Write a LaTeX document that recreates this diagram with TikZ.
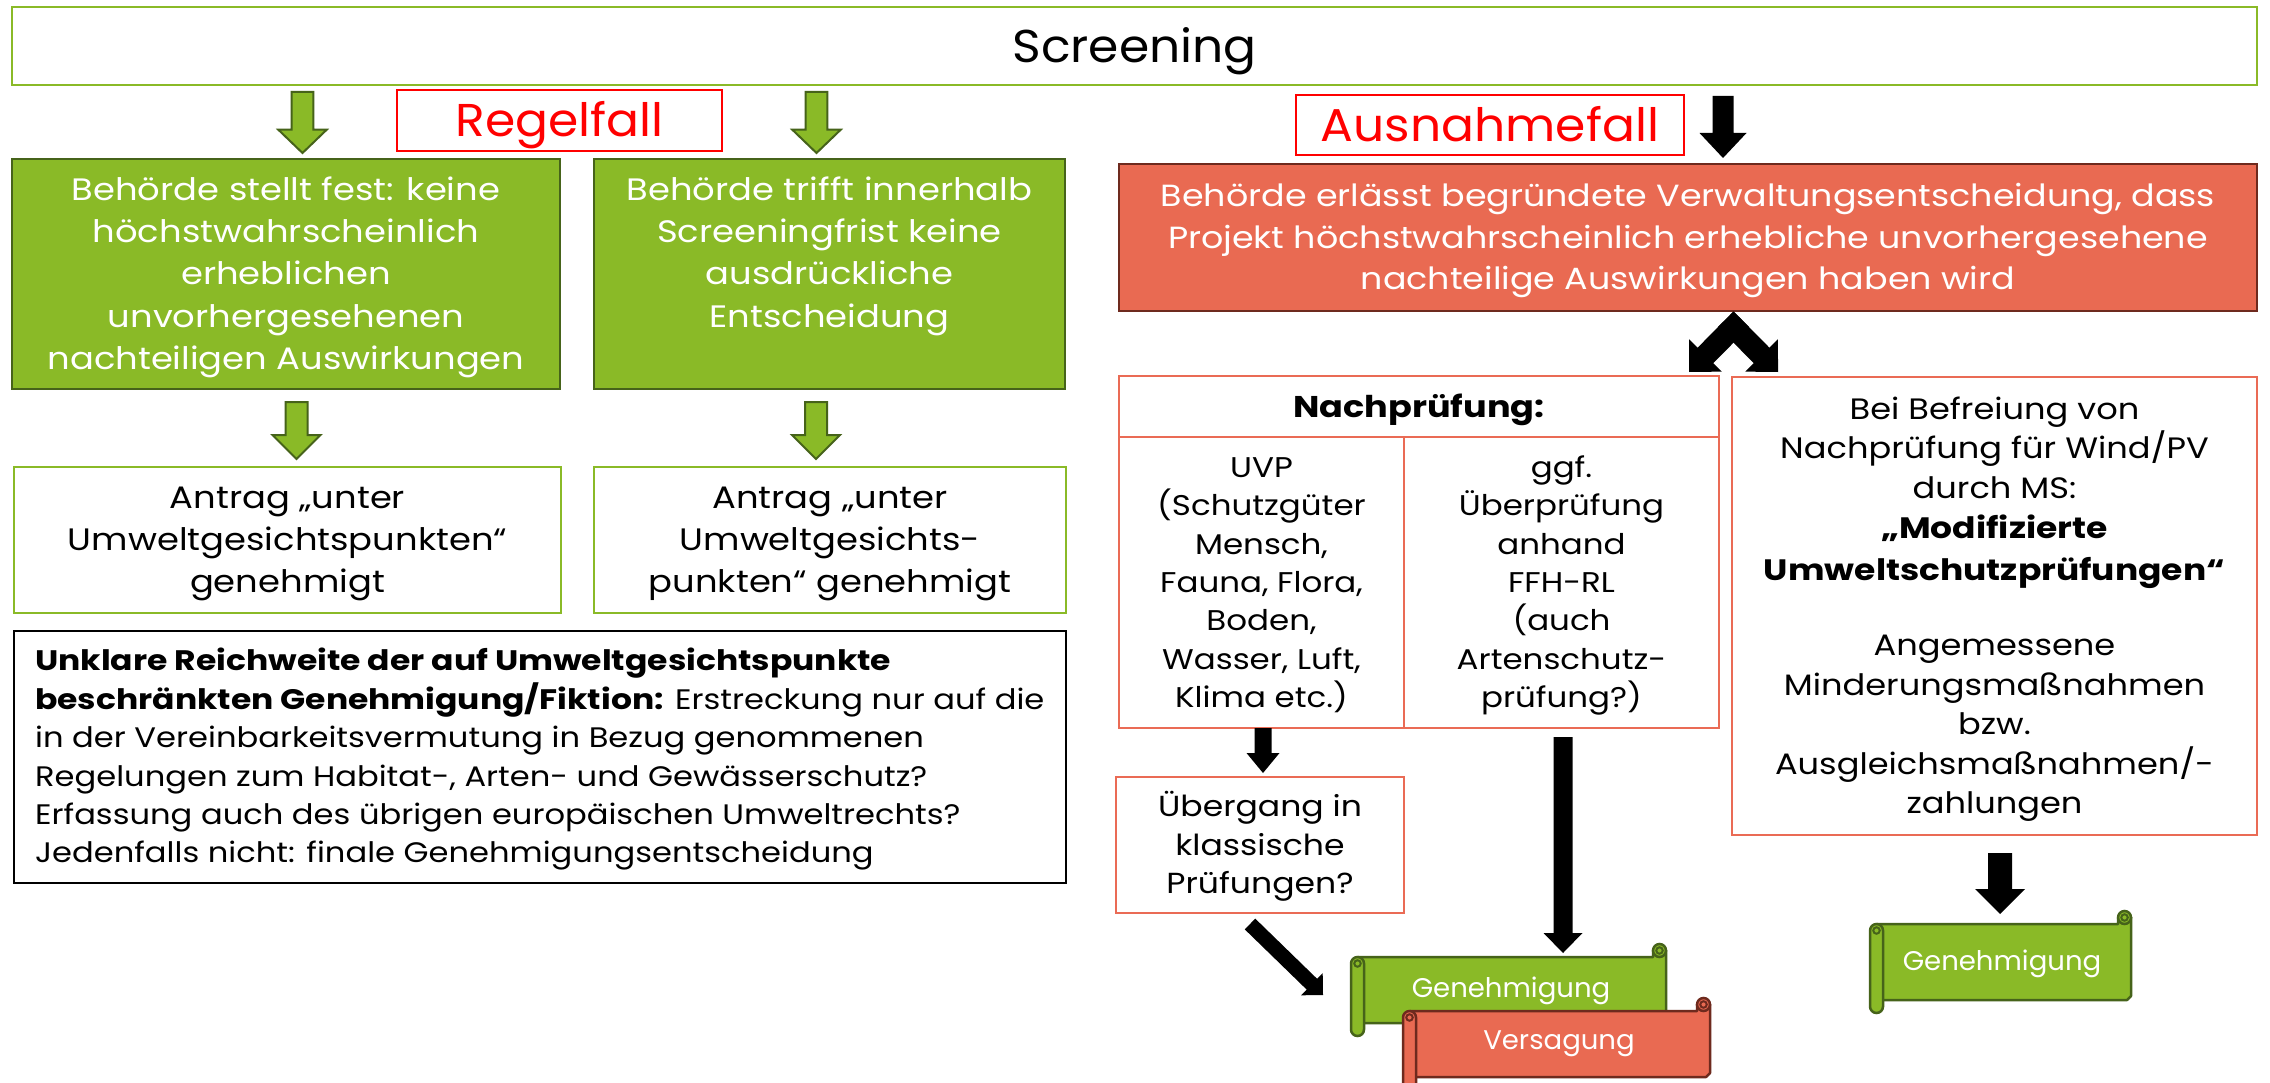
\documentclass[tikz,border=0pt]{standalone}
\usepackage{fontspec}
\setmainfont{Poppins}[FakeStretch=1.14,BoldFeatures={FakeStretch=1.17}]
\newfontfamily\titlefont{Poppins}[FakeStretch=1.06]
\newfontfamily\plainfont{Poppins}[FakeStretch=1.02]
\usetikzlibrary{calc}
\definecolor{gfill}{HTML}{8ABA27}
\definecolor{gdark}{HTML}{46631A}
\definecolor{rfill}{HTML}{E96A52}
\definecolor{rdark}{HTML}{6E2A1E}
\definecolor{coral}{HTML}{EA6B55}
\definecolor{rtext}{HTML}{FF0000}
\newcommand\fs[2]{\fontsize{#1}{#2}\selectfont}
\newcommand\tp{\rule{0pt}{1em}}
\newcommand\bt{\rule[-0.3em]{0pt}{0.3em}}
% block arrow: start, end, half shaft, half head, head length, style
\newcommand\blockarrow[6]{%
  \coordinate (hb) at ($(#2)!#5!(#1)$);
  \path[#6] ($(#1)!#3!90:(#2)$) -- ($(hb)!#3!90:(#2)$) -- ($(hb)!#4!90:(#2)$) -- (#2)
    -- ($(hb)!#4!-90:(#2)$) -- ($(hb)!#3!-90:(#2)$) -- ($(#1)!#3!-90:(#2)$) -- cycle;}
% scroll: L, R, T, B, c, fill, draw
\newcommand\scroll[7]{%
  \filldraw[fill=#6,draw=#7,line width=2.5pt,line join=round]
    (#1+#5/2,#3) -- (#2-#5,#3) -- (#2-#5,#3-#5/2) -- (#2,#3-#5/2) -- (#2,#4-4) -- (#2-4,#4) -- (#1+#5/2,#4) -- cycle;
  \filldraw[fill=#6,draw=#7,line width=2.5pt] (#2-#5/2,#3-#5/2) circle[radius=#5/2];
  \draw[draw=#7,line width=2pt] (#2-#5/2,#3-#5/2) circle[radius=#5/4];
  \filldraw[fill=#6,draw=#7,line width=2.5pt,rounded corners=#5/2-0.01] (#1,#3) rectangle (#1+#5,#4+#5);
  \draw[draw=#7,line width=2pt] (#1+#5/2,#3+#5/2) circle[radius=#5/4];}
\begin{document}
\begin{tikzpicture}[x=1pt,y=-1pt,
  lgbox/.style={draw=gfill,line width=2.5pt,fill=white,inner sep=0pt,align=center},
  gbox/.style={draw=gdark,line width=2.5pt,fill=gfill,text=white,inner sep=0pt,align=center},
  rbox/.style={draw=rdark,line width=2.5pt,fill=rfill,text=white,inner sep=0pt,align=center},
  cbox/.style={draw=coral,line width=2.5pt,fill=white,inner sep=0pt,align=center},
  lbl/.style={draw=rtext,line width=2pt,fill=white,text=rtext,inner sep=0pt,align=center},
  kbox/.style={draw=black,line width=2pt,fill=white,inner sep=0pt},
  garrow/.style={fill=gfill,draw=gdark,line width=2pt,line join=miter},
  karrow/.style={fill=black},
  scrolltext/.style={text=white,inner sep=0pt,font=\plainfont\fs{27}{32}}]
\useasboundingbox (0,0) rectangle (2270,1083);
\fill[white] (0,0) rectangle (2270,1083);

% top
\node[lgbox,minimum width=2245pt,minimum height=78pt,font=\titlefont\fs{46}{55}] (screen) at (1134.5,46) {\tp Screening\bt};
\node[lbl,minimum width=325pt,minimum height=61pt,font=\titlefont\fs{46}{55}] (regel) at (559.5,120.5) {\tp Regelfall\bt};
\node[lbl,minimum width=388pt,minimum height=60pt,font=\titlefont\fs{46}{55}] (aus) at (1490,125) {\tp Ausnahmefall\bt};

% left column
\node[gbox,minimum width=548pt,minimum height=230pt,font=\fs{31}{42.3}] (g1) at (286,274)
  {\tp Behörde stellt fest: keine\\höchstwahrscheinlich\\erheblichen\\unvorhergesehenen\\nachteiligen Auswirkungen\bt};
\node[gbox,minimum width=471pt,minimum height=230pt,font=\fs{31}{42.3}] (g2) at (829.5,274)
  {\tp Behörde trifft innerhalb\\Screeningfrist keine\\ausdrückliche\\Entscheidung\\\bt};
\node[lgbox,minimum width=547pt,minimum height=146pt,font=\fs{31}{42}] (a1) at (287.5,540)
  {\tp Antrag „unter\\Umweltgesichtspunkten“\\genehmigt\bt};
\node[lgbox,minimum width=472pt,minimum height=146pt,font=\fs{31}{42}] (a2) at (830,540)
  {\tp Antrag „unter\\Umweltgesichts-\\punkten“ genehmigt\bt};
\node[kbox,minimum width=1052pt,minimum height=252pt] (unk) at (540,757) {};
\node[anchor=west,align=left,inner sep=0pt,font=\fs{28.2}{38.4}] (unkt) at (35,757)
  {\tp\textbf{Unklare Reichweite der auf Umweltgesichtspunkte}\\
   \textbf{beschränkten Genehmigung/Fiktion:} Erstreckung nur auf die\\
   in der Vereinbarkeitsvermutung in Bezug genommenen\\
   Regelungen zum Habitat-, Arten- und Gewässerschutz?\\
   Erfassung auch des übrigen europäischen Umweltrechts?\\
   Jedenfalls nicht: finale Genehmigungsentscheidung\bt};

% right column
\node[rbox,minimum width=1138pt,minimum height=147pt,font=\fs{30.6}{41.3}] (red) at (1688,237.5)
  {\tp Behörde erlässt begründete Verwaltungsentscheidung, dass\\Projekt höchstwahrscheinlich erhebliche unvorhergesehene\\nachteilige Auswirkungen haben wird\bt};
\node[cbox,minimum width=600pt,minimum height=61pt,font=\bfseries\fs{30}{38}] (nh) at (1419,406.5) {\tp Nachprüfung:\bt};
\node[cbox,minimum width=285pt,minimum height=291pt,font=\fs{28.5}{38.3}] (uvp) at (1261.5,582.5)
  {\tp UVP\\(Schutzgüter\\Mensch,\\Fauna, Flora,\\Boden,\\Wasser, Luft,\\Klima etc.)\bt};
\node[cbox,minimum width=315pt,minimum height=291pt,font=\fs{28.5}{38.3}] (ffh) at (1561.5,582.5)
  {\tp ggf.\\Überprüfung\\anhand\\FFH-RL\\(auch\\Artenschutz-\\prüfung?)\bt};
\node[cbox,minimum width=525pt,minimum height=458pt,font=\fs{29.5}{39.5}] (bei) at (1994.5,606)
  {\tp Bei Befreiung von\\Nachprüfung für Wind/PV\\durch MS:\\[1pt]\textbf{„Modifizierte}\\[2pt]\textbf{Umweltschutzprüfungen“}\\[36pt]Angemessene\\Minderungsmaßnahmen\\bzw.\\Ausgleichsmaßnahmen/-\\zahlungen\bt};
\node[cbox,minimum width=288pt,minimum height=136pt,font=\fs{29}{38.8}] (ueb) at (1260,845)
  {\tp Übergang in\\klassische\\Prüfungen?\bt};

% scrolls
\scroll{1351}{1666}{957}{1023}{13}{gfill}{gdark}
\node[scrolltext] (gen1) at (1511,991) {Genehmigung};
\scroll{1403}{1710}{1011}{1077}{13}{rfill}{rdark}
\node[scrolltext] (vers) at (1559,1044) {Versagung};
\scroll{1870}{2131}{924}{1000}{13}{gfill}{gdark}
\node[scrolltext] (gen2) at (2002,964) {Genehmigung};

% green arrows
\coordinate (ga1s) at (302.5,92);   \coordinate (ga1e) at (302.5,153);
\coordinate (ga2s) at (816.5,92);   \coordinate (ga2e) at (816.5,153);
\coordinate (ga3s) at (296.5,402);  \coordinate (ga3e) at (296.5,459);
\coordinate (ga4s) at (816,402);    \coordinate (ga4e) at (816,459);
\blockarrow{ga1s}{ga1e}{10.8pt}{24.2pt}{23.3pt}{garrow}
\blockarrow{ga2s}{ga2e}{10.8pt}{24.2pt}{23.3pt}{garrow}
\blockarrow{ga3s}{ga3e}{11pt}{24pt}{24pt}{garrow}
\blockarrow{ga4s}{ga4e}{11pt}{24pt}{24pt}{garrow}

% black arrows
\coordinate (ba1s) at (1723,96);    \coordinate (ba1e) at (1723,158);
\coordinate (ba2s) at (1263,728);   \coordinate (ba2e) at (1263,773);
\coordinate (ba3s) at (1563,737);   \coordinate (ba3e) at (1563,953);
\coordinate (ba4s) at (2000,853);   \coordinate (ba4e) at (2000,914);
\coordinate (ba5s) at (1250,924);   \coordinate (ba5e) at (1323,995);
\coordinate (chls) at (1741.25,319.25); \coordinate (chle) at (1689,372);
\coordinate (chrs) at (1725.75,319.25); \coordinate (chre) at (1778,372);
\blockarrow{ba1s}{ba1e}{10.5pt}{23.5pt}{25pt}{karrow}
\blockarrow{ba2s}{ba2e}{8.5pt}{16.5pt}{20pt}{karrow}
\blockarrow{ba3s}{ba3e}{9.5pt}{19.5pt}{20pt}{karrow}
\blockarrow{ba4s}{ba4e}{12pt}{25pt}{25pt}{karrow}
\blockarrow{ba5s}{ba5e}{7.5pt}{15.5pt}{15.5pt}{karrow}
\blockarrow{chls}{chle}{11pt}{23pt}{23.3pt}{karrow}
\blockarrow{chrs}{chre}{11pt}{23pt}{23.3pt}{karrow}
\end{tikzpicture}
\end{document}
